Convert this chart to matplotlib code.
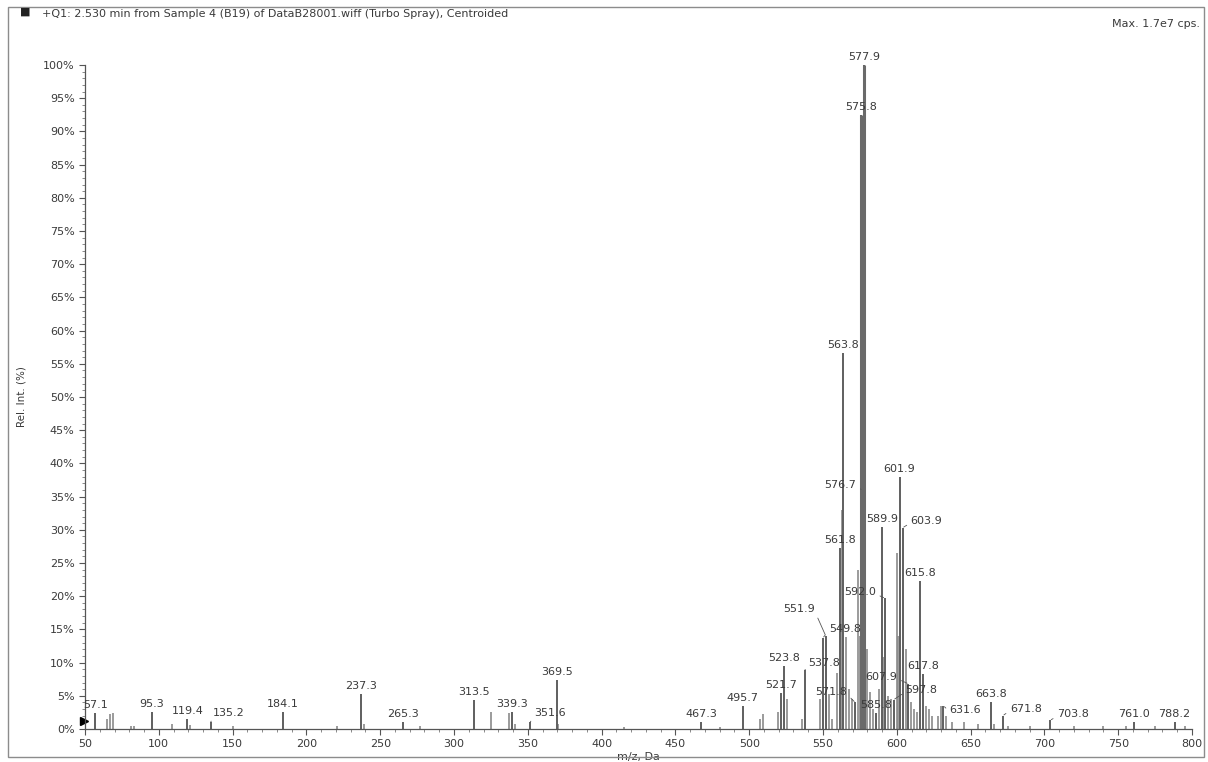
import matplotlib
matplotlib.use("Agg")
import matplotlib.pyplot as plt
from matplotlib.patches import Rectangle
from matplotlib.ticker import MultipleLocator, FuncFormatter

# labelled peaks (m/z, rel. intensity %)
lab_mz = [57.1, 95.3, 119.4, 135.2, 184.1, 237.3, 265.3, 313.5, 339.3, 351.6,
          369.5, 467.3, 495.7, 521.7, 523.8, 537.8, 549.8, 551.9, 561.8, 563.8,
          571.8, 575.8, 576.7, 577.9, 585.8, 589.9, 592.0, 597.8, 601.9, 603.9,
          607.9, 615.8, 617.8, 631.6, 663.8, 671.8, 703.8, 761.0, 788.2]
lab_int = [2.4, 2.6, 1.5, 1.0, 2.6, 5.3, 1.0, 4.4, 2.6, 1.0,
           7.4, 1.0, 3.5, 5.4, 9.5, 8.9, 13.7, 14.0, 27.3, 56.6,
           4.0, 92.5, 36.0, 100.0, 2.4, 30.4, 19.7, 4.4, 38.0, 30.3,
           6.8, 22.3, 8.3, 3.5, 4.0, 2.0, 1.3, 1.0, 1.0]

# unlabelled peaks
other_mz = [65.1, 67.1, 69.1, 81.1, 83.0, 109.0, 121.0, 150.0, 221.0, 239.0,
            277.0, 325.4, 337.3, 341.3, 370.5, 415.0, 480.0, 507.6, 509.6, 519.6,
            525.8, 535.8, 547.9, 553.9, 555.8, 559.8, 562.8, 565.8, 567.8, 569.8,
            573.8, 574.8, 579.8, 581.8, 583.8, 587.8, 590.9, 593.9, 595.9, 599.9,
            600.9, 605.9, 609.9, 611.9, 613.9, 619.8, 621.8, 623.8, 627.7, 629.7,
            633.6, 637.6, 645.6, 655.0, 665.8, 675.0, 690.0, 720.0, 740.0, 755.0,
            775.0, 795.0]
other_int = [1.5, 2.2, 2.4, 0.5, 0.4, 0.8, 0.6, 0.4, 0.4, 0.8,
             0.5, 2.5, 2.4, 0.8, 0.8, 0.3, 0.3, 1.5, 2.2, 2.5,
             4.5, 1.5, 4.5, 5.2, 1.5, 8.5, 33.0, 13.8, 6.0, 4.5,
             24.0, 14.0, 12.0, 5.5, 3.0, 6.0, 10.8, 5.0, 4.5, 26.5,
             14.0, 12.0, 4.0, 3.0, 2.5, 3.5, 3.0, 2.0, 2.0, 3.5,
             2.0, 1.0, 1.0, 0.8, 0.8, 0.5, 0.5, 0.4, 0.4, 0.5,
             0.4, 0.5]

# label offsets in pixels (dx, dy) for labels moved off the peak, with leader
moved = {576.7: (-22, 5), 603.9: (24, 7), 592.0: (-25, 6), 551.9: (-27, 27),
         549.8: (22, 9), 537.8: (19, 7), 571.8: (-24, 10), 607.9: (-27, 7),
         597.8: (28, 10), 631.6: (22, -4), 671.8: (23, 7), 703.8: (23, 6),
         135.2: (18, 9), 351.6: (20, 9)}

title = "+Q1: 2.530 min from Sample 4 (B19) of DataB28001.wiff (Turbo Spray), Centroided"
txt = "#3a3a3a"
bar_c = "#5f5f5f"

fig = plt.figure(figsize=(12.08, 7.62), dpi=100)
ax = fig.add_axes([85 / 1208, 1 - 729 / 762, 1107 / 1208, 664 / 762])

ax.vlines(other_mz, 0, other_int, color="#8a8a8a", lw=1.2)
ax.vlines(lab_mz, 0, lab_int, color=bar_c, lw=1.4)
# the big 575.8 / 577.9 column is wider in the scan
ax.vlines([575.8, 577.9], 0, [lab_int[21], lab_int[23]], color="#6a6a6a", lw=2.2)

for mz, h in zip(lab_mz, lab_int):
    if mz in moved:
        dx, dy = moved[mz]
        rel = (1.0, 0.3) if dx < 0 else (0.0, 0.3)
        ax.annotate("%.1f" % mz, (mz, h), xytext=(dx, dy), textcoords="offset pixels",
                    ha="center", va="center", fontsize=8, color=txt,
                    arrowprops=dict(arrowstyle="-", lw=0.6, color="#555555",
                                    shrinkA=1, shrinkB=1, relpos=rel),
                    annotation_clip=False)
    else:
        ax.annotate("%.1f" % mz, (mz, h), xytext=(0, 8), textcoords="offset pixels",
                    ha="center", va="center", fontsize=8, color=txt,
                    annotation_clip=False)

ax.set_xlim(50, 800)
ax.set_ylim(0, 100)
ax.xaxis.set_major_locator(MultipleLocator(50))
ax.xaxis.set_minor_locator(MultipleLocator(10))
ax.yaxis.set_major_locator(MultipleLocator(5))
ax.yaxis.set_minor_locator(MultipleLocator(1))
ax.yaxis.set_major_formatter(FuncFormatter(lambda v, p: "%d%%" % v))
ax.tick_params(axis="both", which="major", labelsize=8, colors="#555555",
               labelcolor=txt, length=4, width=0.8)
ax.tick_params(axis="both", which="minor", length=2, width=0.6, colors="#777777")
for s in ["top", "right"]:
    ax.spines[s].set_visible(False)
for s in ["left", "bottom"]:
    ax.spines[s].set_color("#555555")
    ax.spines[s].set_linewidth(0.9)

ax.set_xlabel("m/z, Da", fontsize=8, color=txt, labelpad=2)
ax.set_ylabel("Rel. Int. (%)", fontsize=7.5, color=txt, labelpad=12)

# small marker at the origin
ax.plot([49], [1.2], marker=">", color="black", markersize=6, clip_on=False)

fig.text(20 / 1208, 1 - 12 / 762, "\u25a0", fontsize=8, color="#222222", va="center")
fig.text(42 / 1208, 1 - 14 / 762, title, fontsize=8, color=txt, va="center")
fig.text(1200 / 1208, 1 - 24 / 762, "Max. 1.7e7 cps.", fontsize=8, color=txt,
         va="center", ha="right")

fig.patches.append(Rectangle((8 / 1208, 5 / 762), 1196 / 1208, 750 / 762,
                             transform=fig.transFigure, fill=False,
                             edgecolor="#8c8c8c", lw=1.0))

fig.savefig("out.png", dpi=100)
